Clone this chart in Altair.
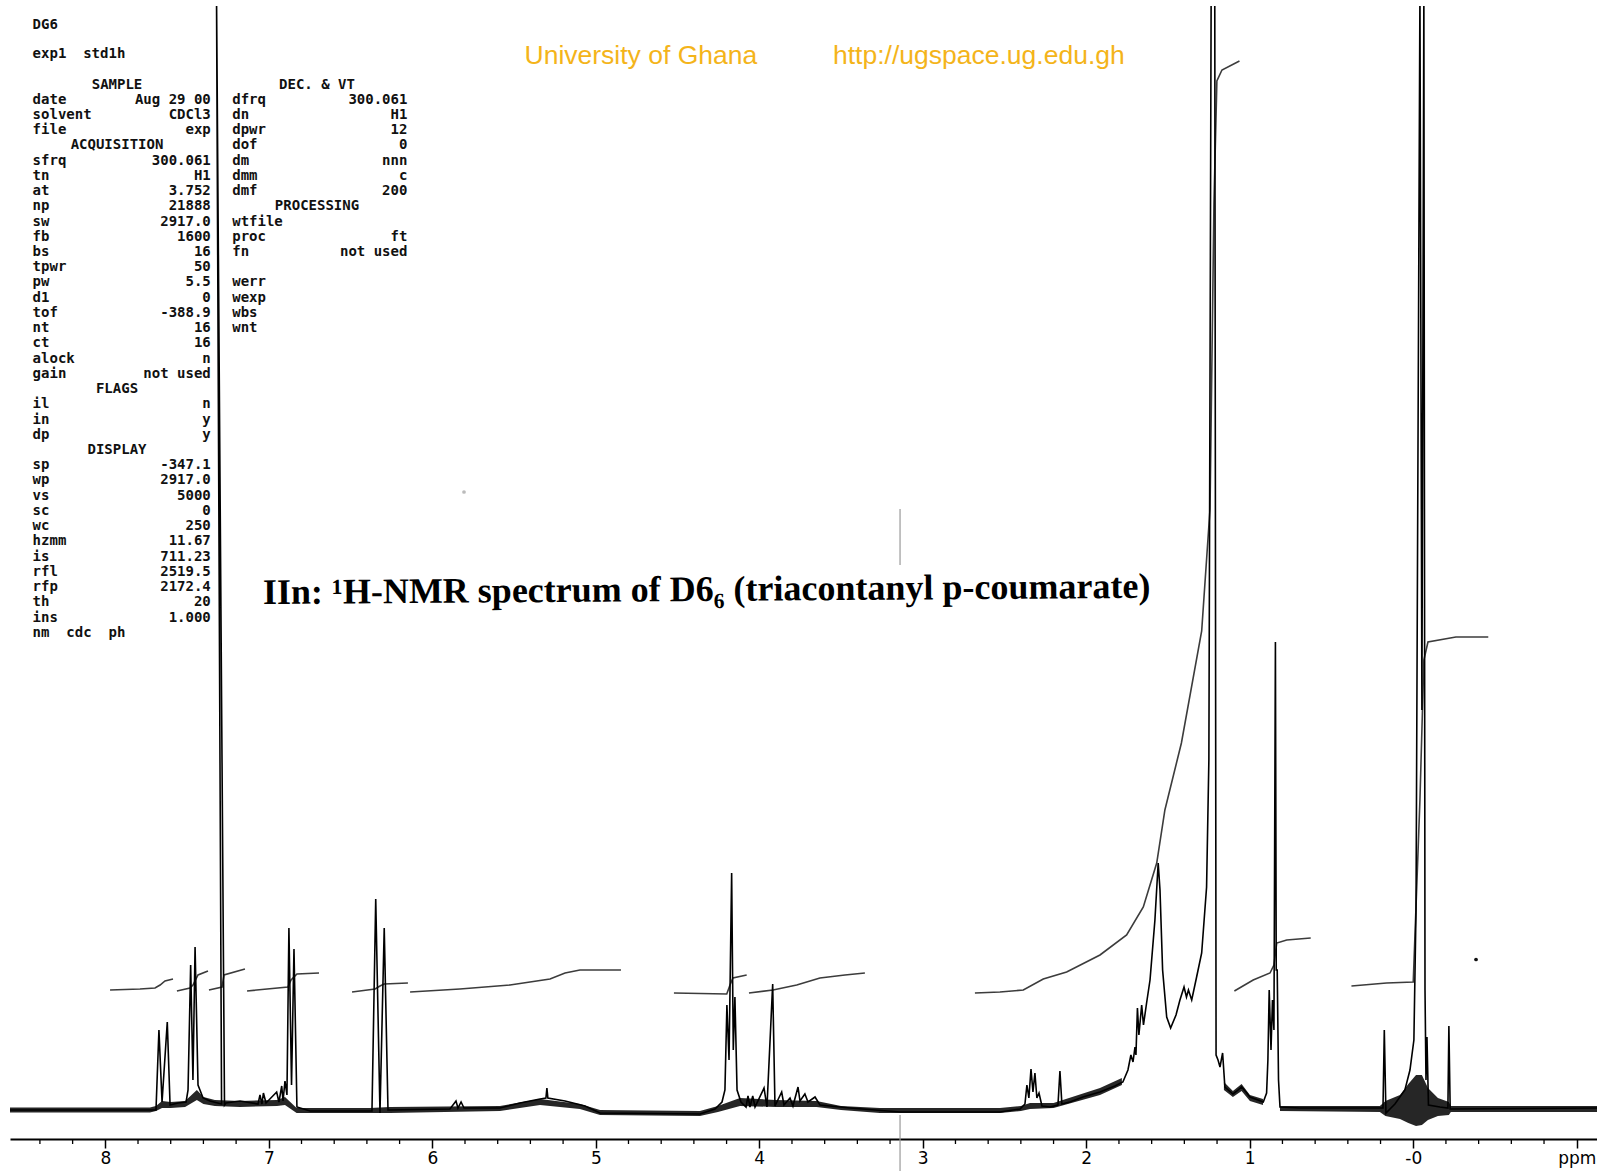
import altair as alt
import pandas as pd

# Plot area (pixels) and the padding that puts the axis line near the bottom edge
W, H = 1587, 1133
PAD = {"left": 10, "top": 6, "right": 0, "bottom": 32}

# ---- 1H trace: chemical shift (ppm) and intensity, vertex by vertex, left to right ----
spec_ppm = [
    8.583, 7.727, 7.690, 7.672, 7.653, 7.621, 7.604, 7.555, 7.506, 7.494,
    7.478, 7.464, 7.451, 7.433, 7.402, 7.360, 7.289, 7.320, 7.271, 7.262,
    7.176, 7.066, 7.054, 7.042, 7.033, 7.017, 6.952, 6.938, 6.921, 6.913,
    6.901, 6.889, 6.877, 6.861, 6.846, 6.828, 6.748, 6.369, 6.346, 6.320,
    6.294, 6.271, 5.892, 5.855, 5.843, 5.824, 5.806, 5.586, 5.464, 5.341,
    5.305, 5.299, 5.293, 5.188, 5.066, 4.974, 4.363, 4.271, 4.228, 4.210,
    4.198, 4.185, 4.169, 4.159, 4.149, 4.136, 4.112, 4.081, 4.069, 4.057,
    4.040, 4.026, 3.971, 3.953, 3.918, 3.904, 3.863, 3.849, 3.812, 3.794,
    3.763, 3.751, 3.721, 3.702, 3.659, 3.629, 3.445, 3.139, 2.528, 2.405,
    2.375, 2.363, 2.351, 2.338, 2.326, 2.314, 2.302, 2.289, 2.271, 2.222,
    2.173, 2.161, 2.149, 2.100, 2.020, 1.916, 1.825, 1.776, 1.745, 1.727,
    1.714, 1.702, 1.696, 1.687, 1.678, 1.661, 1.650, 1.631, 1.610, 1.580,
    1.560, 1.549, 1.533, 1.508, 1.484, 1.451, 1.427, 1.402, 1.387, 1.375,
    1.355, 1.325, 1.294, 1.264, 1.250, 1.236, 1.214, 1.206, 1.194, 1.182,
    1.166, 1.152, 1.103, 1.078, 1.050, 1.023, 0.999, 0.917, 0.897, 0.889,
    0.881, 0.870, 0.861, 0.852, 0.843, 0.838, 0.832, 0.824, 0.815, 0.693,
    0.185, 0.177, 0.167, 0.112, 0.051, 0.020, -0.004, -0.017, -0.041, -0.053,
    -0.065, -0.072, -0.078, -0.084, -0.093, -0.163, -0.212, -0.218, -0.226, -1.124,
]
spec_int = [
    0.0, 0.0, 0.0, 8.0, 0.8, 8.8, 0.5, 0.7, 0.8, 2.0,
    14.5, 3.0, 16.3, 2.5, 1.2, 0.9, 0.6, 112.0, 0.5, 0.7,
    0.9, 0.6, 1.5, 0.6, 1.7, 0.7, 1.8, 0.8, 2.4, 0.9,
    2.9, 1.5, 18.2, 2.5, 16.1, 0.3, -0.1, -0.1, 21.1, -0.3,
    18.2, 0.0, 0.1, 0.9, 0.2, 0.8, 0.2, 0.2, 0.7, 1.1,
    1.2, 2.2, 1.2, 0.9, 0.4, -0.3, -0.4, 0.1, 0.8, 2.0,
    10.5, 5.0, 23.7, 6.0, 11.3, 2.0, 0.8, 0.3, 1.4, 0.3,
    1.4, 0.3, 2.2, 0.3, 12.6, 0.4, 1.8, 0.5, 1.2, 0.4,
    2.3, 0.9, 1.6, 0.8, 1.3, 0.5, 0.2, -0.2, -0.2, 0.1,
    0.6, 2.5, 1.2, 4.1, 1.8, 3.7, 1.2, 1.7, 0.4, 0.3,
    0.5, 3.9, 0.6, 0.8, 1.3, 1.8, 2.4, 2.8, 4.0, 5.5,
    4.8, 6.3, 5.5, 10.2, 7.5, 10.5, 8.5, 10.7, 13.0, 19.0,
    24.7, 22.0, 14.0, 9.3, 8.2, 9.5, 11.0, 12.3, 11.3, 12.0,
    11.0, 13.3, 15.7, 22.3, 35.0, 112.0, 112.0, 5.5, 5.0, 4.3,
    5.7, 2.3, 1.6, 1.9, 2.3, 1.8, 1.3, 0.8, 1.7, 5.0,
    12.0, 6.0, 11.0, 8.0, 46.8, 14.0, 14.0, 3.0, 0.3, 0.2,
    0.2, 8.0, -0.3, 0.6, 2.0, 4.0, 7.0, 20.0, 112.0, 40.0,
    112.0, 12.0, 3.0, 7.3, 0.5, 0.3, 0.2, 8.4, 0.1, 0.2,
]

# ---- baseline noise envelope (ppm, low, high), in pieces ----
band_seg = ["a"] * 32 + ["b"] * 5 + ["c"] * 12
band_ppm = [
    8.583, 7.727, 7.690, 7.653, 7.600, 7.512, 7.440, 7.400, 7.330, 7.176,
    6.950, 6.901, 6.830, 6.382, 6.259, 5.586, 5.341, 5.097, 4.974, 4.363,
    4.253, 4.118, 3.900, 3.650, 3.500, 3.262, 2.528, 2.400, 2.344, 2.200,
    1.916, 1.782,
    1.158, 1.103, 1.050, 0.999, 0.919,
    0.815, 0.204, 0.170, 0.081, 0.030, -0.017, -0.053, -0.090, -0.151, -0.218,
    -0.230, -1.124,
]
band_lo = [
    -0.25, -0.25, -0.1, 0.2, 0.2, 0.3, 1.0, 0.6, 0.4, 0.3,
    0.4, 0.5, -0.3, -0.3, -0.3, -0.1, 0.5, 0.1, -0.5, -0.6,
    -0.2, 0.4, 0.3, 0.3, 0.0, -0.3, -0.3, -0.1, 0.1, 0.2,
    1.5, 2.5,
    2.0, 1.3, 1.9, 0.9, 0.5,
    -0.1, -0.2, -0.6, -0.9, -1.3, -1.6, -1.5, -1.0, -0.6, -0.5,
    -0.2, -0.2,
]
band_hi = [
    0.25, 0.25, 0.4, 0.9, 0.8, 0.9, 2.0, 1.3, 1.0, 0.9,
    1.0, 1.3, 0.2, 0.2, 0.3, 0.4, 1.1, 0.6, 0.0, -0.1,
    0.4, 1.2, 1.0, 0.9, 0.4, 0.2, 0.2, 0.4, 0.7, 0.7,
    2.2, 3.2,
    2.8, 1.9, 2.6, 1.5, 1.1,
    0.4, 0.4, 0.9, 1.5, 2.6, 3.5, 3.5, 2.2, 1.2, 0.8,
    0.4, 0.4,
]

# ---- integral traces (ppm, running integral) ----
int_seg = [1] * 6 + [2] * 5 + [3] * 4 + [4] * 5 + [5] * 5 + [6] * 7 + [7] * 5 + [8] * 6 + [9] * 17 + [10] * 7 + [11] * 8
int_ppm = [
    7.971, 7.788, 7.696, 7.665, 7.635, 7.586,
    7.562, 7.482, 7.464, 7.433, 7.372,
    7.366, 7.286, 7.274, 7.146,
    7.133, 6.883, 6.864, 6.828, 6.693,
    6.491, 6.350, 6.320, 6.295, 6.149,
    6.136, 5.831, 5.525, 5.280, 5.188, 5.097, 4.846,
    4.522, 4.199, 4.179, 4.161, 4.077,
    4.063, 3.916, 3.771, 3.629, 3.476, 3.354,
    2.681, 2.528, 2.385, 2.263, 2.120, 1.916, 1.753, 1.651, 1.569, 1.519,
    1.418, 1.294, 1.243, 1.219, 1.201, 1.170, 1.063,
    1.094, 0.979, 0.876, 0.852, 0.835, 0.774, 0.627,
    0.378, 0.163, 0.000, -0.041, -0.065, -0.090, -0.261, -0.459,
]
int_val = [
    12.0, 12.1, 12.2, 12.5, 12.9, 13.1,
    11.9, 12.2, 12.5, 13.5, 13.9,
    12.0, 12.3, 13.5, 14.1,
    11.9, 12.3, 13.0, 13.6, 13.7,
    11.8, 12.1, 12.4, 12.6, 12.7,
    11.8, 12.1, 12.5, 13.1, 13.7, 14.0, 14.0,
    11.7, 11.6, 12.5, 13.2, 13.5,
    11.7, 12.0, 12.5, 13.2, 13.5, 13.7,
    11.7, 11.8, 12.0, 13.1, 13.8, 15.5, 17.5, 20.3, 24.7, 30.0,
    36.7, 47.9, 60.1, 90.6, 102.9, 104.0, 104.9,
    11.9, 13.0, 13.7, 14.5, 16.7, 17.0, 17.2,
    12.4, 12.7, 12.8, 31.0, 45.0, 46.8, 47.3, 47.3,
]

# ---- stray pen marks on the chart paper ----
mark_ppm = [3.139, 3.139]
mark_lo = [-0.5, 54.5]
mark_hi = [-6.1, 60.1]
speck_ppm = [5.806, -0.384]
speck_int = [61.8, 15.05]
speck_shade = ["#bbbbbb", "#111111"]

# ---- axis ----
major_ticks = [8, 7, 6, 5, 4, 3, 2, 1, 0, -1]
minor_ticks = [round(k * 0.2, 1) for k in range(-5, 43) if k % 5 != 0]

# ---- acquisition parameter listing ----
NB = "\u00a0"
left_keys = ["SAMPLE", "date", "solvent", "file", "ACQUISITION", "sfrq", "tn", "at", "np", "sw",
             "fb", "bs", "tpwr", "pw", "d1", "tof", "nt", "ct", "alock", "gain",
             "FLAGS", "il", "in", "dp", "DISPLAY", "sp", "wp", "vs", "sc", "wc",
             "hzmm", "is", "rfl", "rfp", "th", "ins", f"nm{NB}{NB}cdc{NB}{NB}ph"]
left_vals = ["", f"Aug{NB}29{NB}00", "CDCl3", "exp", "", "300.061", "H1", "3.752", "21888", "2917.0",
             "1600", "16", "50", "5.5", "0", "-388.9", "16", "16", "n", f"not{NB}used",
             "", "n", "y", "y", "", "-347.1", "2917.0", "5000", "0", "250",
             "11.67", "711.23", "2519.5", "2172.4", "20", "1.000", ""]
right_keys = [f"DEC.{NB}&{NB}VT", "dfrq", "dn", "dpwr", "dof", "dm", "dmm", "dmf", "PROCESSING", "wtfile",
              "proc", "fn", "", "werr", "wexp", "wbs", "wnt"]
right_vals = ["", "300.061", "H1", "12", "0", "nnn", "c", "200", "", "",
              "ft", f"not{NB}used", "", "", "", "", ""]
headings = {"SAMPLE", "ACQUISITION", "FLAGS", "DISPLAY", f"DEC.{NB}&{NB}VT", "PROCESSING"}
header_lines = ["DG6", f"exp1{NB}{NB}std1h"]

title_text = "IIn: \u00b9H-NMR spectrum of D6\u2086 (triacontanyl p-coumarate)"
watermark = ["University of Ghana", "http://ugspace.ug.edu.gh"]

# ---------------------------------------------------------------------------
x_scale = alt.Scale(domain=[8.583, -1.124], nice=False, zero=False)
y_scale = alt.Scale(domain=[-2.9, 110.4], nice=False, zero=False)
x_axis = alt.Axis(
    values=major_ticks, title=None, grid=False,
    labelExpr="datum.value == 0 ? '-0' : datum.value == -1 ? 'ppm' : datum.label",
    domainColor="black", domainWidth=2, tickColor="black", tickWidth=1.5, tickSize=9,
    labelFont="DejaVu Sans", labelFontSize=17, labelColor="black", labelPadding=2,
    labelFlush=False,
)
X = alt.X("ppm:Q", scale=x_scale, axis=x_axis)

trace_df = pd.DataFrame({"ppm": spec_ppm, "intensity": spec_int, "i": range(len(spec_ppm))})
band_df = pd.DataFrame({"ppm": band_ppm, "lo": band_lo, "hi": band_hi, "seg": band_seg})
int_df = pd.DataFrame({"ppm": int_ppm, "val": int_val, "seg": int_seg, "i": range(len(int_ppm))})
mark_df = pd.DataFrame({"ppm": mark_ppm, "lo": mark_lo, "hi": mark_hi})
speck_df = pd.DataFrame({"ppm": speck_ppm, "intensity": speck_int, "shade": speck_shade})
minor_df = pd.DataFrame({"ppm": minor_ticks})

band = alt.Chart(band_df).mark_area(color="black", opacity=0.85, clip=True).encode(
    x=X, y=alt.Y("lo:Q", scale=y_scale, axis=None), y2="hi:Q", detail="seg:N"
)
trace = alt.Chart(trace_df).mark_line(color="black", strokeWidth=1.6, clip=True).encode(
    x=X, y=alt.Y("intensity:Q", scale=y_scale, axis=None), order=alt.Order("i:Q")
)
integral = alt.Chart(int_df).mark_line(color="#3c3c3c", strokeWidth=1.6, clip=True).encode(
    x=X, y=alt.Y("val:Q", scale=y_scale, axis=None), detail="seg:N", order=alt.Order("i:Q")
)
pen_marks = alt.Chart(mark_df).mark_rule(color="#9a9a9a", strokeWidth=1.2).encode(
    x=X, y=alt.Y("lo:Q", scale=y_scale, axis=None), y2="hi:Q"
)
specks = alt.Chart(speck_df).mark_circle(size=14, opacity=1).encode(
    x=X, y=alt.Y("intensity:Q", scale=y_scale, axis=None),
    color=alt.Color("shade:N", scale=None),
)
minor = alt.Chart(minor_df).mark_rule(color="black", strokeWidth=1.3).encode(
    x=X, y=alt.value(H), y2=alt.value(H + 5)
)

# parameter listing laid out in two printer columns
ROW0, ROW_H = 78.5, 15.23
L_KEY_X, L_VAL_X, L_HEAD_X = 22.6, 200.8, 107.0
R_KEY_X, R_VAL_X, R_HEAD_X = 222.2, 397.4, 307.0

keys_rows, vals_rows, head_rows = [], [], []
for r, (k, v) in enumerate(zip(left_keys, left_vals)):
    y = ROW0 + r * ROW_H
    if k in headings:
        head_rows.append({"t": k, "px": L_HEAD_X, "py": y})
    else:
        keys_rows.append({"t": k, "px": L_KEY_X, "py": y})
        if v:
            vals_rows.append({"t": v, "px": L_VAL_X, "py": y})
for r, (k, v) in enumerate(zip(right_keys, right_vals)):
    y = ROW0 + r * ROW_H
    if k in headings:
        head_rows.append({"t": k, "px": R_HEAD_X, "py": y})
    elif k:
        keys_rows.append({"t": k, "px": R_KEY_X, "py": y})
        if v:
            vals_rows.append({"t": v, "px": R_VAL_X, "py": y})
for j, line in enumerate(header_lines):
    keys_rows.append({"t": line, "px": L_KEY_X, "py": 19.0 + j * 29.3})

mono = dict(font="DejaVu Sans Mono", fontSize=14, fontWeight="bold", color="#111111", baseline="middle")


def text_layer(rows, align):
    return alt.Chart(pd.DataFrame(rows)).mark_text(align=align, **mono).encode(
        x=alt.X("px:Q", scale=None, axis=None),
        y=alt.Y("py:Q", scale=None, axis=None),
        text="t:N",
    )


param_keys = text_layer(keys_rows, "left")
param_vals = text_layer(vals_rows, "right")
param_heads = text_layer(head_rows, "center")

title = alt.Chart(pd.DataFrame({"t": [title_text]})).mark_text(
    align="left", baseline="middle", font="Liberation Serif", fontSize=36,
    fontWeight="bold", color="black", angle=359.6,
).encode(x=alt.value(253), y=alt.value(587), text="t:N")

wm_df = pd.DataFrame({"t": watermark, "px": [514.5, 823.0], "py": [50.0, 50.0]})
wm = alt.Chart(wm_df).mark_text(
    align="left", baseline="middle", font="Liberation Sans", fontSize=26.5, color="#f4b41a"
).encode(
    x=alt.X("px:Q", scale=None, axis=None),
    y=alt.Y("py:Q", scale=None, axis=None),
    text="t:N",
)

chart = alt.layer(
    band, integral, trace, pen_marks, specks, minor,
    param_keys, param_vals, param_heads, title, wm,
).properties(
    width=W, height=H,
    autosize=alt.AutoSizeParams(type="none"),
    padding=PAD,
    background="white",
).configure_view(stroke=None)

chart.save("out.html", embed_options={"renderer": "svg", "actions": False})
